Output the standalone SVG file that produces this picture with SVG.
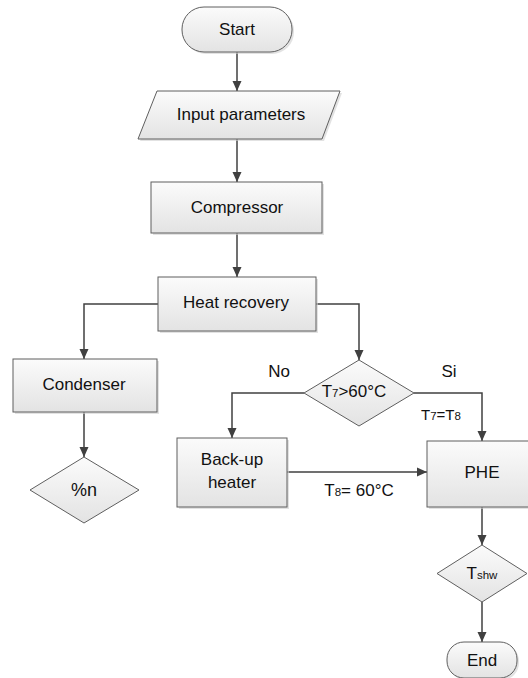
<svg xmlns="http://www.w3.org/2000/svg" width="528" height="678" viewBox="0 0 528 678">
<style>
.shape{fill:url(#g);stroke:#5f5f5f;stroke-width:1}
.sh{fill:#cfcfcf;stroke:none;opacity:0.6}
.t{font-family:"Liberation Sans",Arial,sans-serif;font-size:17px;fill:#111;text-anchor:middle;dominant-baseline:central}
.c{fill:none;stroke:#404040;stroke-width:1.5;marker-end:url(#a)}
.sub{font-size:11.5px}
</style>
<defs>
<linearGradient id="g" x1="0" y1="0" x2="0" y2="1">
<stop offset="0" stop-color="#fbfbfb"/>
<stop offset="1" stop-color="#e3e3e3"/>
</linearGradient>
<marker id="a" markerUnits="userSpaceOnUse" markerWidth="10" markerHeight="10" refX="10" refY="5" orient="auto">
<path d="M0,0.5 L10,5 L0,9.5 z" fill="#404040"/>
</marker>
</defs>
<rect width="528" height="678" fill="#fff"/>
<g id="connectors">
<path class="c" d="M237,52 V91"/>
<path class="c" d="M237,139 V182"/>
<path class="c" d="M237,233 V277"/>
<path class="c" d="M158,304 H84 V359"/>
<path class="c" d="M316,304 H359 V360"/>
<path class="c" d="M84,412 V457"/>
<path class="c" d="M304,393 H232 V438"/>
<path class="c" d="M414,393 H482 V441"/>
<path class="c" d="M287,472 H427"/>
<path class="c" d="M482,507 V545"/>
<path class="c" d="M482,602 V642"/>
</g>
<g id="start">
<rect class="sh" x="184" y="9" width="110" height="45" rx="22" ry="22"/>
<rect class="shape" x="182" y="7" width="110" height="45" rx="22" ry="22"/>
<text class="t" x="237" y="29">Start</text>
</g>
<g id="input">
<polygon class="sh" points="159,93 342,93 324,141 140,141"/>
<polygon class="shape" points="157,91 340,91 322,139 138,139"/>
<text class="t" x="241" y="114">Input parameters</text>
</g>
<g id="compressor">
<rect class="sh" x="153" y="184" width="171" height="51"/>
<rect class="shape" x="151" y="182" width="171" height="51"/>
<text class="t" x="237" y="207">Compressor</text>
</g>
<g id="heat-recovery">
<rect class="sh" x="160" y="279" width="158" height="54"/>
<rect class="shape" x="158" y="277" width="158" height="54"/>
<text class="t" x="236" y="302">Heat recovery</text>
</g>
<g id="condenser">
<rect class="sh" x="15" y="361" width="144" height="53"/>
<rect class="shape" x="13" y="359" width="144" height="53"/>
<text class="t" x="84" y="384">Condenser</text>
</g>
<g id="percent-n">
<polygon class="shape" points="84,457 139,490 84,523 30,490"/>
<text class="t" x="84" y="490" style="font-size:18px">%n</text>
</g>
<g id="decision-t7">
<polygon class="shape" points="359,360 414,393 359,426 304,393"/>
<text class="t" x="354" y="391" style="font-size:17px">T<tspan class="sub" dy="2">7</tspan><tspan dy="-2">&gt;60°C</tspan></text>
</g>
<g id="backup-heater">
<rect class="sh" x="179" y="440" width="110" height="69"/>
<rect class="shape" x="177" y="438" width="110" height="69"/>
<text class="t" x="232" y="459">Back-up</text>
<text class="t" x="232" y="482">heater</text>
</g>
<g id="phe">
<rect class="sh" x="429" y="443" width="110" height="66"/>
<rect class="shape" x="427" y="441" width="110" height="66"/>
<text class="t" x="482" y="472">PHE</text>
</g>
<g id="tshw">
<polygon class="shape" points="482,545 527,573.5 482,602 437,573.5"/>
<text class="t" x="482" y="573" style="font-size:17px">T<tspan class="sub" dy="2">shw</tspan></text>
</g>
<g id="end">
<rect class="sh" x="449" y="644" width="70" height="36" rx="17" ry="17"/>
<rect class="shape" x="447" y="642" width="70" height="36" rx="17" ry="17"/>
<text class="t" x="482" y="660">End</text>
</g>
<g id="labels">
<text class="t" x="279" y="371">No</text>
<text class="t" x="449" y="371">Si</text>
<text class="t" x="441" y="414" style="font-size:15px">T<tspan class="sub" dy="2">7</tspan><tspan dy="-2">=T</tspan><tspan class="sub" dy="2">8</tspan></text>
<text class="t" x="359" y="490" style="font-size:17px">T<tspan class="sub" dy="2">8</tspan><tspan dy="-2">= 60°C</tspan></text>
</g>
</svg>
